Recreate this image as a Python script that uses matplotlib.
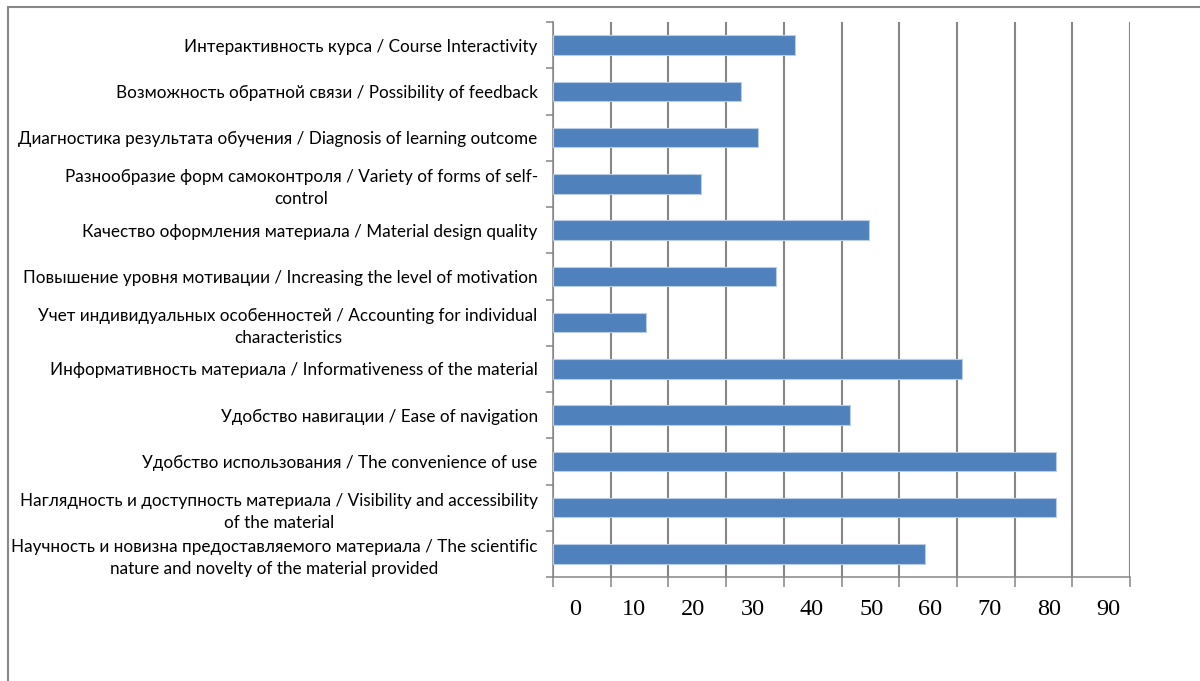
import matplotlib
matplotlib.use('Agg')
import matplotlib.pyplot as plt
from matplotlib.patches import Rectangle
import numpy as np

# Categories, top to bottom
categories = [
    'Интерактивность курса / Course Interactivity',
    'Возможность обратной связи / Possibility of feedback',
    'Диагностика результата обучения / Diagnosis of learning outcome',
    'Разнообразие форм самоконтроля / Variety of forms of self-\ncontrol',
    'Качество оформления материала / Material design quality',
    'Повышение уровня мотивации / Increasing the level of motivation',
    'Учет индивидуальных особенностей / Accounting for individual\ncharacteristics',
    'Информативность материала / Informativeness of the material',
    'Удобство навигации / Ease of navigation',
    'Удобство использования / The convenience of use',
    'Наглядность и доступность материала / Visibility and accessibility\nof the material',
    'Научность и новизна предоставляемого материала / The scientific\nnature and novelty of the material provided',
]
values = [42.0, 32.5, 35.5, 25.7, 54.8, 38.6, 16.2, 70.9, 51.5, 87.1, 87.1, 64.5]
x_labels = ['0', '10', '20', '30', '40', '50', '60', '70', '80', '90']

grid_color = '#868686'

fig = plt.figure(figsize=(12, 6.81), dpi=100)
W, H = 1200, 681
ax = fig.add_axes([553 / W, 1 - 577 / H, (1130 - 553) / W, (577 - 22) / H])

y = np.arange(len(categories))
ax.barh(y, values, height=0.42, color='#4F81BD', edgecolor='#B9CDE5', linewidth=0.8, zorder=3)

ax.set_xlim(0, 100)
ax.set_ylim(len(categories) - 0.5, -0.5)

# y axis: labels at categories, ticks at boundaries
ax.set_yticks(y)
ax.set_yticklabels(categories, fontfamily='Lato', fontsize=12.3,
                   multialignment='center', linespacing=1.45)
ax.tick_params(axis='y', which='major', length=0, pad=11)
ax.set_yticks(np.arange(len(categories) + 1) - 0.5, minor=True)
ax.tick_params(axis='y', which='minor', length=5, width=1.1, color=grid_color, direction='out')

# x axis: gridlines at every 10, labels slightly shifted like the original
ax.set_xticks(np.arange(0, 101, 10))
ax.set_xticklabels([])
ax.tick_params(axis='x', which='major', length=7, width=1.1, color=grid_color, direction='out')
label_pos = [3.8 + 10.27 * i for i in range(len(x_labels))]
ax.set_xticks(label_pos, minor=True)
ax.set_xticklabels(x_labels, minor=True, fontfamily='Liberation Serif', fontsize=17.5)
ax.tick_params(axis='x', which='minor', length=0, pad=16)

ax.grid(axis='x', which='major', color=grid_color, linewidth=1.5, zorder=0)
ax.set_axisbelow(True)

for s in ['top', 'right']:
    ax.spines[s].set_visible(False)
for s in ['left', 'bottom']:
    ax.spines[s].set_color(grid_color)
    ax.spines[s].set_linewidth(1.1)

# outer frame
fig.patches.append(Rectangle((8 / W, -0.1), 1.1, 1.1 - 7 / H, transform=fig.transFigure,
                             fill=False, edgecolor='#888888', linewidth=1.5))

fig.savefig('out.png', dpi=100)
